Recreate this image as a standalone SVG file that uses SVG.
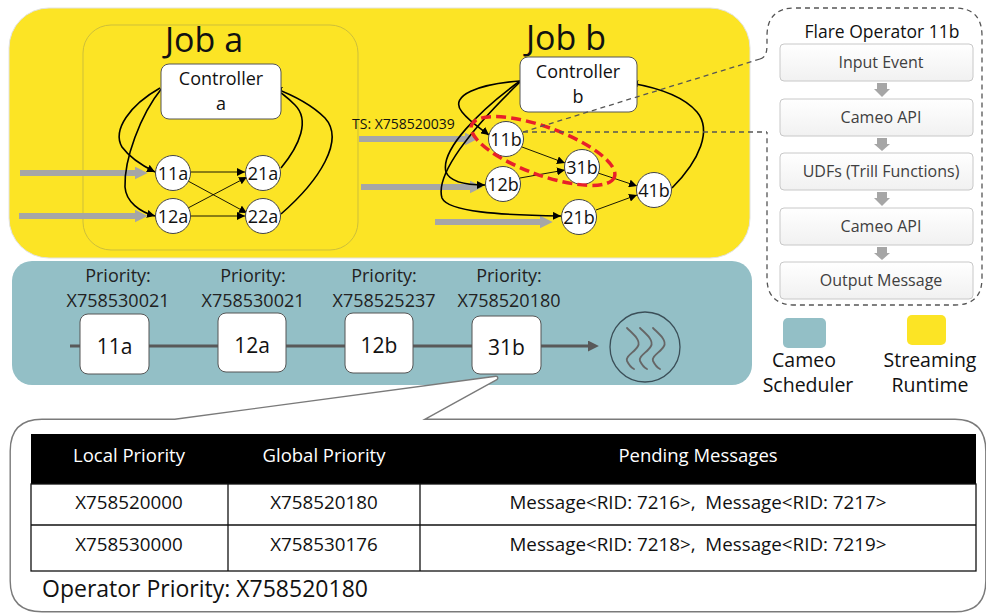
<svg xmlns="http://www.w3.org/2000/svg" width="986" height="613" viewBox="0 0 986 613">
<defs>
<style>
text{font-family:"Open Sans","Liberation Sans",sans-serif;fill:#111}
.title{font-size:34px;text-anchor:middle}
.ctl rect{fill:#fff;stroke:#555;stroke-width:1}
.ctl text{font-size:18px;text-anchor:middle}
.node circle{fill:#fff;stroke:#444;stroke-width:1}
.node text{font-size:18px;text-anchor:middle}
.feed{stroke:#a6a6a6;stroke-width:6;fill:none;marker-end:url(#gh)}
.ctrl{stroke:#000;stroke-width:1.6;fill:none;marker-end:url(#ah)}
.edge{stroke:#000;stroke-width:0.9;fill:none;marker-end:url(#ah)}
.lead{stroke:#555;stroke-width:1.3;stroke-dasharray:5 4;fill:none}
.step rect{fill:url(#stepfill);stroke:#c8c8c8;stroke-width:1}
.step text{font-size:16px;fill:#404040;text-anchor:middle}
.down{fill:#a6a6a6}
.qbox text.prio{font-size:18px;text-anchor:middle;fill:#222}
.qbox rect{fill:#fff;stroke:#555;stroke-width:1}
.qbox text.lbl{font-size:21px;text-anchor:middle}
.leg{font-size:19.5px;text-anchor:middle}
.th{font-size:18.5px;fill:#fff;text-anchor:middle}
.td{font-size:18.8px;text-anchor:middle}
.grid{stroke:#111;stroke-width:1.3;fill:none}
.wave{stroke:#666;stroke-width:1.8;fill:none;stroke-linecap:round}
.bubble{fill:#fff;stroke-linejoin:round}
</style>
<linearGradient id="stepfill" x1="0" y1="0" x2="0" y2="1">
<stop offset="0" stop-color="#ffffff"/>
<stop offset="1" stop-color="#f1f1f1"/>
</linearGradient>
<marker id="ah" viewBox="0 0 10 10" refX="10" refY="5" markerWidth="8" markerHeight="8" markerUnits="userSpaceOnUse" orient="auto">
<path d="M0,0 L10,5 L0,10 z" fill="#000"/>
</marker>
<marker id="gh" viewBox="0 0 10 10" refX="1" refY="5" markerWidth="13" markerHeight="13" markerUnits="userSpaceOnUse" orient="auto">
<path d="M0,0 L10,5 L0,10 z" fill="#a6a6a6"/>
</marker>
<marker id="qh" viewBox="0 0 10 10" refX="1" refY="5" markerWidth="11" markerHeight="11" markerUnits="userSpaceOnUse" orient="auto">
<path d="M0,0 L10,5 L0,10 z" fill="#595959"/>
</marker>
<path id="bubble-shape" d="M42,421 L175,421 L496,378 L418,421 L955,421 Q984,421 984,451 L984,581 Q984,610 955,610 L42,610 Q12,610 12,581 L12,451 Q12,421 42,421 Z"/>
</defs>

<!-- streaming runtime area -->
<g id="runtime">
<rect x="9" y="8" width="741" height="250" rx="40" fill="#fce425" stroke="#e2e2e2" stroke-width="1"/>
<rect x="83" y="25" width="275" height="225" rx="28" fill="none" stroke="#cdbf3a" stroke-width="1"/>
<text class="title" x="204" y="52">Job a</text>
<text class="title" x="566" y="50">Job b</text>
</g>

<!-- scheduler area -->
<g id="scheduler">
<rect x="12" y="261" width="740" height="124" rx="20" fill="#93bfc6"/>
</g>

<!-- connectors -->
<g id="connectors">
<!-- external feeds -->
<line class="feed" x1="20" y1="173" x2="136" y2="173"/>
<line class="feed" x1="19" y1="216" x2="136" y2="216"/>
<line class="feed" x1="359" y1="139" x2="466" y2="139"/>
<line class="feed" x1="361" y1="187" x2="471" y2="187"/>
<line class="feed" x1="435" y1="222" x2="541" y2="222"/>
<!-- job a control -->
<path class="ctrl" d="M160,88 C130,105 112,130 122,147 C130,158 143,166 155,172"/>
<path class="ctrl" d="M162,88 C140,115 124,160 125,187 C126,202 140,212 155,216"/>
<path class="ctrl" d="M281,168 C300,145 310,120 295,105 C288,98 281,92 273,88"/>
<path class="ctrl" d="M281,214 C320,180 345,140 325,118 C310,103 290,94 274,88"/>
<!-- job a data -->
<line class="edge" x1="191" y1="172" x2="245" y2="172"/>
<line class="edge" x1="188" y1="181" x2="247" y2="213"/>
<line class="edge" x1="188" y1="208" x2="247" y2="177"/>
<line class="edge" x1="191" y1="216" x2="245" y2="216"/>
<!-- job b control -->
<path class="ctrl" d="M520,81 C480,84 448,95 462,112 C470,122 480,128 489,135"/>
<path class="ctrl" d="M520,81 C480,110 440,150 446,172 C450,182 465,185 485,185"/>
<path class="ctrl" d="M520,82 C470,130 435,175 442,198 C448,212 500,215 561,216"/>
<path class="ctrl" d="M672,188 C700,160 712,130 697,112 C685,98 660,88 630,83"/>
<!-- job b data -->
<line class="edge" x1="522" y1="147" x2="565" y2="163"/>
<line class="edge" x1="520" y1="178" x2="565" y2="170"/>
<line class="edge" x1="598" y1="173" x2="637" y2="186"/>
<line class="edge" x1="596" y1="210" x2="637" y2="195"/>
<!-- scheduler queue -->
<line x1="70" y1="346" x2="589" y2="346" stroke="#595959" stroke-width="3" marker-end="url(#qh)"/>
</g>

<!-- job a nodes -->
<g id="controller-a" class="ctl">
<rect x="161" y="64" width="120" height="55" rx="8"/>
<text x="221" y="85">Controller</text>
<text x="221" y="110">a</text>
</g>
<g id="op-11a" class="node"><circle cx="173" cy="173" r="17.5"/><text x="173" y="179.5">11a</text></g>
<g id="op-12a" class="node"><circle cx="173" cy="216" r="17.5"/><text x="173" y="222.5">12a</text></g>
<g id="op-21a" class="node"><circle cx="263" cy="173" r="17.5"/><text x="263" y="179.5">21a</text></g>
<g id="op-22a" class="node"><circle cx="263" cy="216" r="17.5"/><text x="263" y="222.5">22a</text></g>

<!-- job b nodes -->
<g id="controller-b" class="ctl">
<rect x="520" y="57" width="117" height="55" rx="8"/>
<text x="578" y="78">Controller</text>
<text x="578" y="103">b</text>
</g>
<g id="op-11b" class="node"><circle cx="506" cy="139" r="17.5"/><text x="506" y="145.5">11b</text></g>
<g id="op-12b" class="node"><circle cx="503" cy="184" r="17.5"/><text x="503" y="190.5">12b</text></g>
<g id="op-31b" class="node"><circle cx="582" cy="167" r="17.5"/><text x="582" y="173.5">31b</text></g>
<g id="op-21b" class="node"><circle cx="579" cy="217" r="17.5"/><text x="579" y="223.5">21b</text></g>
<g id="op-41b" class="node"><circle cx="654" cy="190" r="17.5"/><text x="654" y="196.5">41b</text></g>

<text x="352" y="129" font-size="14">TS: X758520039</text>

<!-- highlighted pair and detail leaders -->
<g id="highlight">
<ellipse cx="543" cy="151" rx="76" ry="24" transform="rotate(20 543 151)" fill="none" stroke="#e8202a" stroke-width="3.5" stroke-dasharray="10 5"/>
<path class="lead" d="M523,132 L767,132"/>
<path class="lead" d="M523,132 L760,59"/>
</g>

<!-- operator detail panel -->
<g id="flare-operator">
<path class="lead" d="M760,59 C766,57 767,52 767,44 L767,36 Q767,8 795,8 L955,8 Q982,8 982,36 L982,278 Q982,305 955,305 L795,305 Q767,305 767,278 L767,132"/>
<text x="882" y="38" font-size="17.5" text-anchor="middle">Flare Operator 11b</text>
<g class="step" id="step-input"><rect x="780" y="44" width="193" height="37" rx="4"/><text x="881" y="68">Input Event</text></g>
<g class="step" id="step-api1"><rect x="780" y="99" width="193" height="37" rx="4"/><text x="881" y="123">Cameo API</text></g>
<g class="step" id="step-udf"><rect x="780" y="153" width="193" height="37" rx="4"/><text x="881" y="177">UDFs (Trill Functions)</text></g>
<g class="step" id="step-api2"><rect x="780" y="208" width="193" height="37" rx="4"/><text x="881" y="232">Cameo API</text></g>
<g class="step" id="step-output"><rect x="780" y="262" width="193" height="37" rx="4"/><text x="881" y="286">Output Message</text></g>
<polygon class="down" points="877,83 887,83 887,89 890,89 882,97 874,89 877,89"/>
<polygon class="down" points="877,138 887,138 887,144 890,144 882,151 874,144 877,144"/>
<polygon class="down" points="877,192 887,192 887,198 890,198 882,206 874,198 877,198"/>
<polygon class="down" points="877,247 887,247 887,253 890,253 882,260 874,253 877,253"/>
</g>

<!-- scheduler queue entries -->
<g id="queue-11a" class="qbox">
<text class="prio" x="118" y="282">Priority:</text>
<text class="prio" x="118" y="307">X758530021</text>
<rect x="80" y="314" width="69" height="60" rx="8"/>
<text class="lbl" x="114.5" y="354">11a</text>
</g>
<g id="queue-12a" class="qbox">
<text class="prio" x="253" y="282">Priority:</text>
<text class="prio" x="253" y="307">X758530021</text>
<rect x="218" y="313" width="68" height="59" rx="8"/>
<text class="lbl" x="252" y="353">12a</text>
</g>
<g id="queue-12b" class="qbox">
<text class="prio" x="384" y="282">Priority:</text>
<text class="prio" x="384" y="307">X758525237</text>
<rect x="345" y="313" width="68" height="60" rx="8"/>
<text class="lbl" x="379" y="353">12b</text>
</g>
<g id="queue-31b" class="qbox">
<text class="prio" x="509" y="282">Priority:</text>
<text class="prio" x="509" y="307">X758520180</text>
<rect x="472" y="316" width="69" height="58" rx="8"/>
<text class="lbl" x="506.5" y="355">31b</text>
</g>
<g id="queue-sink">
<circle cx="645" cy="347" r="35" fill="none" stroke="#3b4f58" stroke-width="1.3"/>
<path class="wave" d="M627,328 C633,334 641,340 638,346 C635,352 625,356 627,361 C629,365 632,368 634,369"/>
<path class="wave" d="M640,328 C646,334 654,340 651,346 C648,352 638,356 640,361 C642,365 645,368 647,369"/>
<path class="wave" d="M653,328 C659,334 667,340 664,346 C661,352 651,356 653,361 C655,365 658,368 660,369"/>
</g>

<!-- legend -->
<g id="legend-scheduler">
<rect x="783" y="318" width="43" height="30" rx="5" fill="#93bfc6"/>
<text class="leg" x="804" y="367">Cameo</text>
<text class="leg" x="808" y="392">Scheduler</text>
</g>
<g id="legend-runtime">
<rect x="907" y="315" width="39" height="30" rx="5" fill="#fce425"/>
<text class="leg" x="930" y="367">Streaming</text>
<text class="leg" x="930" y="392">Runtime</text>
</g>

<!-- operator state callout, double outline -->
<g id="callout">
<use href="#bubble-shape" class="bubble" stroke="#7a7a7a" stroke-width="5"/>
<use href="#bubble-shape" class="bubble" stroke="#fff" stroke-width="2.2"/>
</g>

<g id="priority-table">
<rect x="31" y="434" width="945" height="50" fill="#000"/>
<text class="th" x="129" y="462">Local Priority</text>
<text class="th" x="324" y="462">Global Priority</text>
<text class="th" x="698" y="462">Pending Messages</text>
<rect class="grid" x="31" y="484" width="945" height="87"/>
<line class="grid" x1="31" y1="525" x2="976" y2="525"/>
<line class="grid" x1="228" y1="484" x2="228" y2="571"/>
<line class="grid" x1="420" y1="484" x2="420" y2="571"/>
<text class="td" x="129" y="509">X758520000</text>
<text class="td" x="324" y="509">X758520180</text>
<text class="td" x="698" y="509">Message&lt;RID: 7216&gt;, &#160;Message&lt;RID: 7217&gt;</text>
<text class="td" x="129" y="551">X758530000</text>
<text class="td" x="324" y="551">X758530176</text>
<text class="td" x="698" y="551">Message&lt;RID: 7218&gt;, &#160;Message&lt;RID: 7219&gt;</text>
<text x="42" y="597" font-size="23">Operator Priority: X758520180</text>
</g>
</svg>
